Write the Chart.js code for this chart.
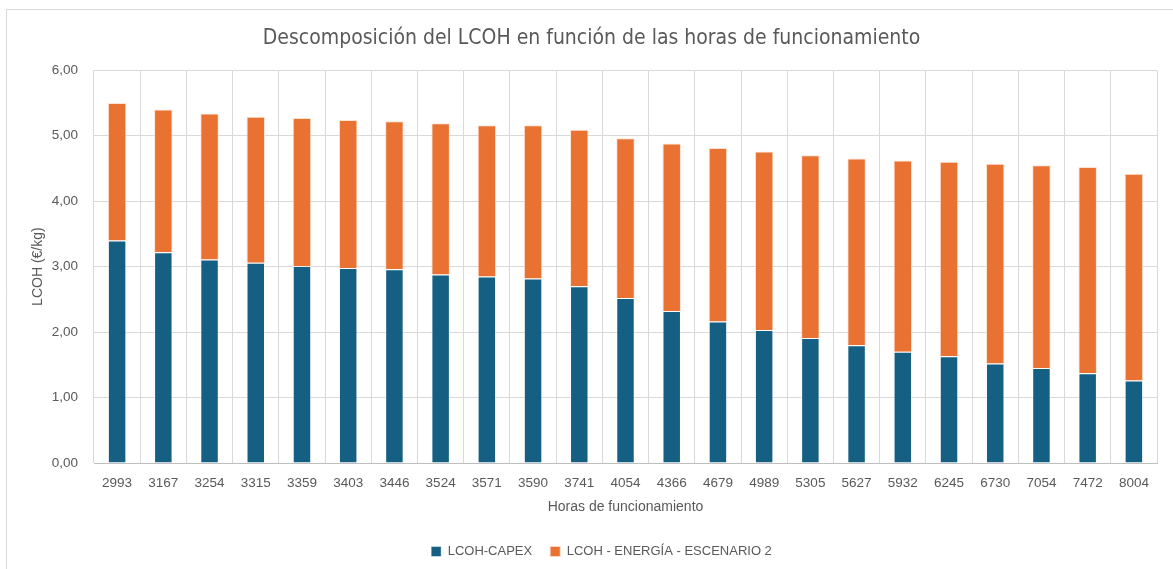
<!DOCTYPE html>
<html>
<head>
<meta charset="utf-8">
<script src="https://cdn.jsdelivr.net/npm/chart.js@4"></script>
<style>
  html, body { margin: 0; padding: 0; background: #fff; }
  #wrap { width: 1173px; height: 569px; position: relative; }
</style>
</head>
<body>
<div id="wrap"><canvas id="c"></canvas></div>
<script>
// Horas de funcionamiento (categorías)
const horas = ['2993', '3167', '3254', '3315', '3359', '3403', '3446', '3524', '3571', '3590', '3741',
               '4054', '4366', '4679', '4989', '5305', '5627', '5932', '6245', '6730', '7054', '7472', '8004'];
// LCOH-CAPEX (€/kg)
const capex = [3.40, 3.22, 3.11, 3.06, 3.01, 2.98, 2.96, 2.88, 2.85, 2.82, 2.70,
               2.52, 2.32, 2.16, 2.03, 1.91, 1.80, 1.70, 1.63, 1.52, 1.45, 1.37, 1.26];
// LCOH - ENERGÍA - ESCENARIO 2 (€/kg)
const energia = [2.10, 2.18, 2.23, 2.23, 2.26, 2.26, 2.26, 2.31, 2.31, 2.34, 2.39,
                 2.44, 2.56, 2.65, 2.73, 2.79, 2.85, 2.92, 2.97, 3.05, 3.10, 3.15, 3.16];
const yTicks = [0, 1, 2, 3, 4, 5, 6];

const INK = '#595959', GRID = '#d9d9d9', AXIS = '#bfbfbf';
const FONT = "'Liberation Sans', Arial, sans-serif";
const NARROW = "'Liberation Sans Narrow', 'DejaVu Sans Condensed', 'Liberation Sans', sans-serif";
const BLUE = '#156082', ORANGE = '#E97132';

const fmt = v => v.toFixed(2).replace('.', ',');

// light grey chart frame (only left/top edges are in the crop)
const framePlugin = {
  id: 'frame',
  beforeDraw(chart) {
    const { ctx } = chart;
    ctx.save();
    ctx.strokeStyle = GRID; ctx.lineWidth = 1;
    ctx.beginPath();
    ctx.moveTo(6.5, chart.height); ctx.lineTo(6.5, 9.5); ctx.lineTo(chart.width, 9.5);
    ctx.stroke();
    ctx.restore();
  },
  // nudge the legend a bit to the right, like the original
  afterLayout(chart) {
    if (chart.legend) { chart.legend.left += 10; chart.legend.right += 10; }
  },
};

const bar = { categoryPercentage: 1, barPercentage: 0.40, borderWidth: 1, borderSkipped: 'bottom' };

new Chart(document.getElementById('c'), {
  type: 'bar',
  data: {
    labels: horas,
    datasets: [
      { ...bar, label: 'LCOH-CAPEX', data: capex, backgroundColor: BLUE, borderColor: 'rgba(255,255,255,0.45)' },
      { ...bar, label: 'LCOH - ENERGÍA - ESCENARIO 2', data: energia, backgroundColor: ORANGE, borderColor: 'rgba(255,220,200,0.8)' },
    ],
  },
  options: {
    responsive: true, maintainAspectRatio: false, animation: false,
    layout: { padding: { left: 26, right: 16, top: 0, bottom: 1 } },
    plugins: {
      title: {
        display: true, text: 'Descomposición del LCOH en función de las horas de funcionamiento',
        color: INK, font: { family: NARROW, size: 21, weight: 'normal' },
        padding: { top: 26, bottom: 19 },
      },
      legend: {
        position: 'bottom',
        labels: { color: INK, font: { family: FONT, size: 13 }, boxWidth: 10, boxHeight: 10, padding: 18 },
      },
      tooltip: { enabled: false },
    },
    scales: {
      x: {
        stacked: true,
        grid: { color: GRID, offset: true, drawTicks: false },
        border: { color: AXIS },
        ticks: { color: INK, font: { family: FONT, size: 13.5 }, padding: 12, maxRotation: 0, autoSkip: false },
        title: { display: true, text: 'Horas de funcionamiento', color: INK, font: { family: FONT, size: 14 }, padding: { top: -4, bottom: 11 } },
      },
      y: {
        stacked: true, min: 0, max: 6,
        afterBuildTicks: s => { s.ticks = yTicks.map(v => ({ value: v })); },
        afterFit: s => { s.width = 68; },
        grid: { color: GRID, drawTicks: false },
        border: { display: false },
        ticks: { color: INK, font: { family: FONT, size: 13.5 }, padding: 16, callback: v => fmt(v) },
        title: { display: true, text: 'LCOH (€/kg)', color: INK, font: { family: FONT, size: 14 }, padding: { top: 4, bottom: 4 } },
      },
    },
  },
  plugins: [framePlugin],
});
</script>
</body>
</html>
